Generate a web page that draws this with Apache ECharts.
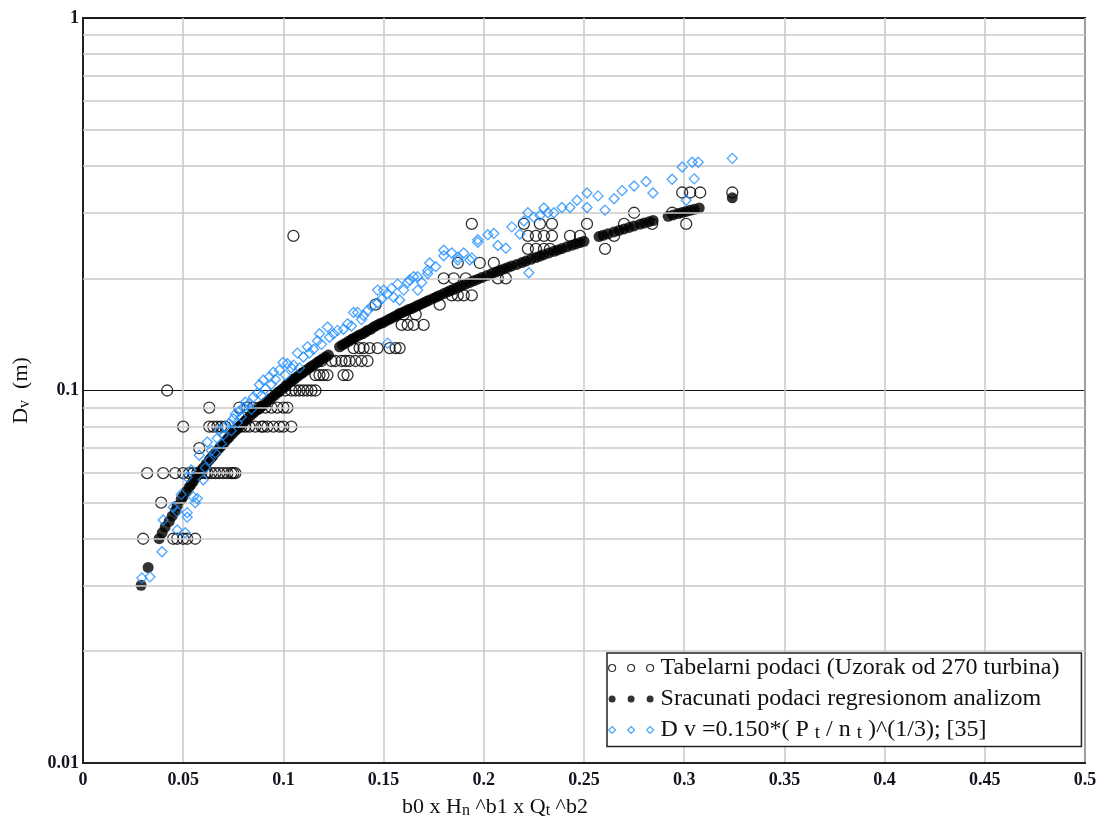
<!DOCTYPE html>
<html><head><meta charset="utf-8">
<script src="https://cdn.jsdelivr.net/npm/echarts@6/dist/echarts.min.js"></script>
<style>html,body{margin:0;padding:0;background:#fff}#c{width:1100px;height:820px}</style>
</head><body><div id="c"></div>
<script>
// Tabelarni podaci (hollow circles)
const tabX = [0.030,0.032,0.039,0.040,0.042,0.045,0.046,0.047,0.050,0.050,0.050,0.052,0.053,0.055,0.056,0.057,0.058,0.059,0.061,0.062,0.063,0.063,0.064,0.065,0.066,0.067,0.068,0.069,0.070,0.071,0.072,0.074,0.075,0.076,0.078,0.079,0.081,0.082,0.083,0.085,0.086,0.088,0.089,0.090,0.091,0.092,0.094,0.095,0.097,0.098,0.100,0.100,0.101,0.102,0.104,0.104,0.105,0.106,0.108,0.110,0.112,0.114,0.116,0.116,0.118,0.120,0.122,0.119,0.124,0.126,0.130,0.132,0.129,0.131,0.133,0.136,0.139,0.142,0.135,0.138,0.140,0.143,0.147,0.153,0.156,0.158,0.146,0.159,0.162,0.165,0.170,0.160,0.166,0.178,0.184,0.187,0.190,0.194,0.180,0.185,0.191,0.207,0.211,0.187,0.198,0.205,0.194,0.220,0.228,0.234,0.222,0.226,0.230,0.234,0.222,0.226,0.230,0.233,0.243,0.248,0.2515,0.2605,0.265,0.270,0.275,0.284,0.294,0.299,0.303,0.308,0.301,0.324];
const tabY = [0.04,0.06,0.05,0.06,0.10,0.04,0.06,0.04,0.08,0.06,0.04,0.04,0.06,0.06,0.04,0.06,0.07,0.06,0.06,0.06,0.09,0.08,0.06,0.08,0.06,0.08,0.06,0.08,0.06,0.08,0.06,0.06,0.06,0.06,0.09,0.08,0.08,0.09,0.08,0.09,0.08,0.09,0.08,0.08,0.09,0.08,0.09,0.08,0.09,0.08,0.09,0.08,0.10,0.09,0.08,0.10,0.26,0.10,0.10,0.10,0.10,0.10,0.10,0.11,0.11,0.11,0.11,0.12,0.12,0.12,0.11,0.11,0.12,0.12,0.12,0.12,0.12,0.12,0.13,0.13,0.13,0.13,0.13,0.13,0.13,0.13,0.17,0.15,0.15,0.15,0.15,0.16,0.16,0.17,0.18,0.18,0.18,0.18,0.20,0.20,0.20,0.20,0.20,0.22,0.22,0.22,0.28,0.28,0.28,0.28,0.26,0.26,0.26,0.26,0.24,0.24,0.24,0.24,0.26,0.26,0.28,0.24,0.26,0.28,0.30,0.28,0.30,0.34,0.34,0.34,0.28,0.34];

// Sracunati podaci (filled circles)
const regX = [0.029,0.0325,0.038,0.0395,0.041,0.043,0.0445,0.046,0.047,0.049,0.050,0.0515,0.053,0.054,0.055,0.0565,0.058,0.059,0.060,0.0615,0.063,0.064,0.065,0.0665,0.068,0.069,0.0705,0.072,0.073,0.0745,0.076,0.077,0.078,0.0795,0.081,0.082,0.0835,0.085,0.086,0.0875,0.089,0.090,0.0915,0.093,0.094,0.0955,0.097,0.098,0.0995,0.101,0.102,0.1035,0.105,0.106,0.1075,0.109,0.110,0.1115,0.113,0.114,0.1155,0.117,0.118,0.1195,0.121,0.1225,0.128,0.1295,0.131,0.1325,0.134,0.135,0.1365,0.138,0.1395,0.141,0.142,0.1435,0.145,0.1465,0.148,0.1495,0.151,0.1525,0.154,0.1555,0.157,0.158,0.1595,0.161,0.1625,0.164,0.1655,0.167,0.1685,0.170,0.1715,0.173,0.175,0.1765,0.178,0.180,0.182,0.1835,0.185,0.187,0.189,0.191,0.193,0.195,0.197,0.199,0.2015,0.204,0.206,0.208,0.210,0.212,0.214,0.2165,0.219,0.221,0.2235,0.226,0.228,0.230,0.2325,0.235,0.237,0.239,0.2415,0.244,0.246,0.248,0.250,0.2575,0.2595,0.262,0.265,0.2675,0.270,0.2725,0.275,0.278,0.280,0.2825,0.2845,0.292,0.2945,0.297,0.299,0.301,0.303,0.305,0.3075,0.324];
const regY = [0.030,0.0335,0.040,0.0415,0.043,0.0445,0.046,0.0475,0.049,0.051,0.052,0.0535,0.055,0.056,0.057,0.0585,0.060,0.061,0.062,0.0635,0.065,0.066,0.067,0.0685,0.070,0.071,0.0725,0.074,0.075,0.0765,0.078,0.079,0.080,0.0815,0.083,0.084,0.0855,0.087,0.088,0.089,0.0905,0.0915,0.093,0.0945,0.0955,0.097,0.0985,0.0995,0.101,0.1025,0.104,0.1055,0.107,0.108,0.1095,0.111,0.112,0.1135,0.115,0.116,0.1175,0.119,0.120,0.1215,0.123,0.1245,0.131,0.1325,0.134,0.1355,0.137,0.138,0.1395,0.141,0.142,0.1435,0.145,0.146,0.148,0.1495,0.151,0.152,0.1535,0.155,0.1565,0.158,0.1595,0.161,0.162,0.1635,0.165,0.166,0.1675,0.169,0.1705,0.172,0.1735,0.175,0.177,0.1785,0.180,0.182,0.184,0.1855,0.187,0.189,0.191,0.193,0.195,0.197,0.199,0.201,0.2035,0.206,0.208,0.210,0.212,0.214,0.216,0.218,0.2205,0.2225,0.225,0.2275,0.2295,0.2315,0.234,0.2365,0.2385,0.2405,0.243,0.2455,0.2475,0.2495,0.2515,0.259,0.261,0.2635,0.2665,0.269,0.2715,0.274,0.2765,0.2795,0.2815,0.284,0.286,0.2935,0.296,0.2985,0.3005,0.3025,0.3045,0.3065,0.309,0.329];

// Dv = 0.150*(Pt/nt)^(1/3) (blue diamonds)
const blueX = [0.0294,0.0334,0.0394,0.040,0.045,0.047,0.047,0.049,0.051,0.052,0.052,0.054,0.052,0.055,0.056,0.057,0.058,0.060,0.061,0.062,0.063,0.064,0.066,0.067,0.068,0.069,0.070,0.071,0.073,0.074,0.075,0.076,0.077,0.078,0.079,0.080,0.081,0.083,0.084,0.085,0.087,0.088,0.089,0.090,0.091,0.093,0.094,0.095,0.096,0.098,0.0998,0.101,0.102,0.104,0.105,0.107,0.108,0.110,0.112,0.113,0.115,0.117,0.118,0.119,0.122,0.123,0.125,0.127,0.130,0.132,0.134,0.135,0.137,0.139,0.140,0.142,0.144,0.147,0.147,0.149,0.150,0.152,0.152,0.154,0.155,0.157,0.158,0.160,0.162,0.163,0.165,0.167,0.167,0.169,0.172,0.172,0.173,0.176,0.180,0.180,0.184,0.187,0.187,0.190,0.193,0.194,0.197,0.197,0.202,0.205,0.207,0.211,0.214,0.218,0.2225,0.222,0.220,0.225,0.228,0.230,0.232,0.235,0.239,0.243,0.2465,0.2515,0.2515,0.257,0.2605,0.265,0.269,0.275,0.281,0.2844,0.294,0.299,0.301,0.304,0.305,0.307,0.324];
const blueY = [0.0314,0.0316,0.0369,0.0449,0.0486,0.0422,0.0473,0.0526,0.0415,0.0457,0.0470,0.0612,0.0585,0.0518,0.0500,0.0513,0.0670,0.0576,0.0620,0.0727,0.0650,0.0690,0.0680,0.0744,0.0780,0.0720,0.0760,0.0800,0.0816,0.0780,0.0840,0.0864,0.0820,0.0880,0.0850,0.0900,0.0930,0.0923,0.0890,0.0960,0.0984,0.1036,0.0970,0.1066,0.1010,0.1088,0.1040,0.1120,0.1070,0.1134,0.1189,0.1100,0.1180,0.1150,0.1170,0.1260,0.1150,0.1230,0.1310,0.1260,0.1290,0.1360,0.1420,0.1330,0.1480,0.1390,0.1420,0.1450,0.1460,0.1510,0.1490,0.1620,0.1620,0.1550,0.1590,0.1640,0.1680,0.1860,0.1720,0.1760,0.1860,0.1820,0.1340,0.1880,0.1780,0.1930,0.1750,0.1860,0.1950,0.1980,0.2020,0.2020,0.1860,0.1950,0.2060,0.2100,0.2200,0.2150,0.2380,0.2300,0.2340,0.2280,0.2240,0.2340,0.2240,0.2270,0.2540,0.2500,0.2620,0.2640,0.2450,0.2410,0.2750,0.2630,0.2070,0.3000,0.2850,0.2920,0.2950,0.3090,0.3000,0.3000,0.3100,0.3100,0.3240,0.3390,0.3100,0.3330,0.3050,0.3270,0.3440,0.3540,0.3640,0.3390,0.3690,0.3980,0.3240,0.4100,0.3700,0.4100,0.4200];

// axis ticks / minor log gridlines
const xTicks = [0,0.05,0.1,0.15,0.2,0.25,0.3,0.35,0.4,0.45,0.5];
const yMinor = [0.02,0.03,0.04,0.05,0.06,0.07,0.08,0.09,0.2,0.3,0.4,0.5,0.6,0.7,0.8,0.9];

const zip = (a,b) => a.map((v,i)=>[v,b[i]]);
const SERIF = '"Liberation Serif","DejaVu Serif",serif';
const subRich = {sub:{fontFamily:SERIF,fontSize:16,padding:[8,0,0,0],color:'#111'}};
const circles3 = 'path://M0,3.5a3.5,3.5 0 1,0 7,0a3.5,3.5 0 1,0 -7,0M19,3.5a3.5,3.5 0 1,0 7,0a3.5,3.5 0 1,0 -7,0M38,3.5a3.5,3.5 0 1,0 7,0a3.5,3.5 0 1,0 -7,0';
const diamonds3 = 'path://M3.5,0L7,3.5L3.5,7L0,3.5ZM22.5,0L26,3.5L22.5,7L19,3.5ZM41.5,0L45,3.5L41.5,7L38,3.5Z';
const names = ['Tabelarni podaci (Uzorak od 270 turbina)','Sracunati podaci regresionom analizom','D v =0.150*( P {sub|t} / n {sub|t} )^(1/3); [35]'];

const chart = echarts.init(document.getElementById('c'), null, {renderer:'canvas'});
chart.setOption({
  animation:false,
  backgroundColor:'#fff',
  grid:{left:83,right:15,top:18,bottom:57,show:true,borderColor:'#222',borderWidth:2,backgroundColor:'transparent',
        containLabel:false,outerBoundsMode:'none'},
  xAxis:{
    type:'value',min:0,max:0.5,interval:0.05,
    axisLine:{show:true,lineStyle:{color:'#222',width:2}},
    axisTick:{show:false},
    splitLine:{show:true,lineStyle:{color:'#c9c9c9',width:1.5}},
    axisLabel:{margin:8,fontFamily:SERIF,fontWeight:'bold',fontSize:18,color:'#141420',
      formatter:v=>String(parseFloat(v.toFixed(2)))},
    name:'b0 x H{sub|n} ^b1 x Q{sub|t} ^b2',nameLocation:'middle',nameGap:32,
    nameTextStyle:{fontFamily:SERIF,fontSize:22,color:'#111',padding:[0,178,0,0],rich:subRich}
  },
  yAxis:{
    type:'log',logBase:10,min:0.01,max:1,
    axisLine:{show:true,lineStyle:{color:'#222',width:2}},
    axisTick:{show:false},
    splitLine:{show:true,lineStyle:{color:'#111',width:1.2}},
    minorTick:{show:false},minorSplitLine:{show:false},
    axisLabel:{margin:4,fontFamily:SERIF,fontWeight:'bold',fontSize:18,color:'#141420',
      formatter:v=>String(v)},
    name:'D{sub|v}  (m)',nameLocation:'middle',nameGap:50,nameRotate:90,
    nameTextStyle:{fontFamily:SERIF,fontSize:22,color:'#111',rich:subRich}
  },
  legend:{
    orient:'vertical',left:607,top:653,itemWidth:45,itemHeight:7,itemGap:7,
    padding:[3,22,4,1],backgroundColor:'#fff',borderColor:'#222',borderWidth:1.5,
    textStyle:{fontFamily:SERIF,fontSize:24,color:'#111',padding:[0,0,0,2],rich:{sub:{fontFamily:SERIF,fontSize:19,padding:[6,0,0,0],color:'#111'}}},
    data:[
      {name:names[0],icon:circles3,itemStyle:{color:'#fff',borderColor:'#000',borderWidth:1.2}},
      {name:names[1],icon:circles3,itemStyle:{color:'#000',borderColor:'#000',borderWidth:0}},
      {name:names[2],icon:diamonds3,itemStyle:{color:'#fff',borderColor:'#1e8fff',borderWidth:1.2}}
    ]
  },
  series:[
    {type:'line',data:[],silent:true,z:1,
     markLine:{silent:true,symbol:['none','none'],label:{show:false},animation:false,
       lineStyle:{color:'#c9c9c9',width:1.5,type:'solid'},
       data:yMinor.map(v=>({yAxis:v}))}},
    {name:names[0],type:'scatter',symbol:'circle',symbolSize:11,z:3,
     itemStyle:{color:'rgba(255,255,255,0)',borderColor:'#000',borderWidth:1.3},
     data:zip(tabX,tabY)},
    {name:names[1],type:'scatter',symbol:'circle',symbolSize:11,z:4,
     itemStyle:{color:'#000',borderWidth:0},
     data:zip(regX,regY)},
    {name:names[2],type:'scatter',symbol:'diamond',symbolSize:10,z:5,
     itemStyle:{color:'rgba(255,255,255,0)',borderColor:'#1e8fff',borderWidth:1.3},
     data:zip(blueX,blueY)}
  ]
});
</script></body></html>
